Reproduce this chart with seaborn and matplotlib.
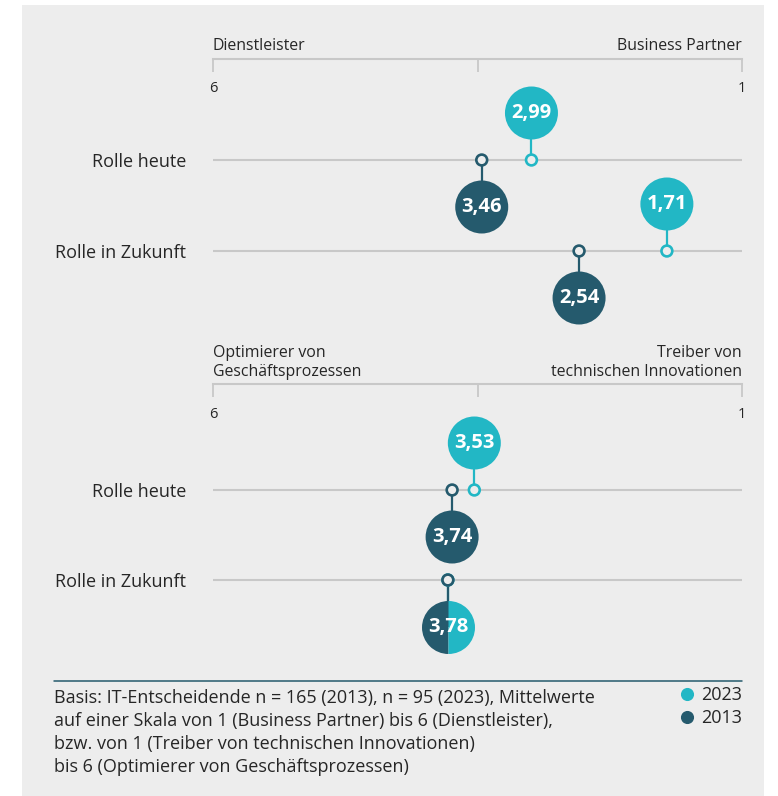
import matplotlib
matplotlib.use("Agg")
import matplotlib.pyplot as plt
from matplotlib.patches import Rectangle
from matplotlib.lines import Line2D
import seaborn as sns
import pandas as pd

# ---------------- data ----------------
rows = ["Rolle heute", "Rolle in Zukunft"]
years = ["2023", "2013"]

top_2023 = [2.99, 1.71]
top_2013 = [3.46, 2.54]
bot_2023 = [3.53, 3.78]
bot_2013 = [3.74, 3.78]

top_left_label = "Dienstleister"
top_right_label = "Business Partner"
bot_left_label = "Optimierer von\nGeschäftsprozessen"
bot_right_label = "Treiber von\ntechnischen Innovationen"

scale_ticks = [6, 3.5, 1]
scale_ticklabels = ["6", "", "1"]

footnote_lines = [
    "Basis: IT-Entscheidende n = 165 (2013), n = 95 (2023), Mittelwerte",
    "auf einer Skala von 1 (Business Partner) bis 6 (Dienstleister),",
    "bzw. von 1 (Treiber von technischen Innovationen)",
    "bis 6 (Optimierer von Geschäftsprozessen)",
]

# ---------------- style ----------------
TEAL = "#22b7c5"
DARK = "#255a6d"
BG = "#ededed"
GRID = "#c8c8c8"
TXT = "#262626"
palette = {"2023": TEAL, "2013": DARK}

sns.set_theme(style="white")
plt.rcParams["font.family"] = ["Open Sans", "DejaVu Sans"]

W, H, DPI = 778, 796, 100
PT = 72 / DPI  # points per pixel

fig = plt.figure(figsize=(W / DPI, H / DPI), dpi=DPI)
fig.patch.set_facecolor("white")
fig.patches.append(Rectangle((22 / W, 0), (764 - 22) / W, (H - 5) / H,
                             transform=fig.transFigure, facecolor=BG,
                             edgecolor="none", zorder=-10))

X0, X1 = 213, 742
BUB_D = 53 * PT        # bubble diameter in points
RING_D = 10.8 * PT
OFF_PX = 47


def panel(spine_px, row_px, bottom_px, v2023, v2013, left_label, right_label, label_off_px):
    ax = fig.add_axes([X0 / W, 1 - bottom_px / H, (X1 - X0) / W, (bottom_px - spine_px) / H])
    ax.set_facecolor("none")
    gap = row_px[1] - row_px[0]
    ax.set_xlim(6, 1)
    ax.set_ylim((bottom_px - row_px[0]) / gap, (spine_px - row_px[0]) / gap)
    off = OFF_PX / gap

    recs = []
    for i, r in enumerate(rows):
        recs.append(dict(row=r, ri=i, year="2023", value=v2023[i]))
    for i, r in enumerate(rows):
        recs.append(dict(row=r, ri=i, year="2013", value=v2013[i]))
    df = pd.DataFrame(recs)
    df["tie"] = df.groupby("ri")["value"].transform(lambda s: s.nunique() == 1)
    df["by"] = df.apply(lambda d: d.ri + off if (d.year == "2013" or d.tie) else d.ri - off, axis=1)

    # row lines
    for i in range(len(rows)):
        ax.axhline(i, color=GRID, lw=1.5, zorder=1)

    # stems
    for _, d in df.iterrows():
        ax.plot([d.value, d.value], [d.ri, d.by], color=palette[d.year], lw=1.6,
                zorder=2, solid_capstyle="butt")

    # bubbles
    nt = df[~df.tie]
    sns.scatterplot(data=nt, x="value", y="by", hue="year", hue_order=years,
                    palette=palette, s=BUB_D ** 2, linewidth=0, legend=False,
                    ax=ax, zorder=3)
    ties = df[df.tie & (df.year == "2013")]
    for _, d in ties.iterrows():
        ax.plot([d.value], [d.by], marker="o", ls="", markersize=BUB_D,
                fillstyle="left", markerfacecolor=DARK, markerfacecoloralt=TEAL,
                markeredgewidth=0, zorder=3)

    # rings on the line
    sns.scatterplot(data=df, x="value", y="ri", hue="year", hue_order=years,
                    palette=palette, s=RING_D ** 2, linewidth=1.9, legend=False,
                    ax=ax, zorder=4)
    ring = ax.collections[-1]
    ring.set_edgecolors(ring.get_facecolors())
    ring.set_facecolors(BG)

    # values in bubbles
    for _, d in df.iterrows():
        if d.tie and d.year == "2023":
            continue
        ax.text(d.value, d.by, f"{d.value:.2f}".replace(".", ","), ha="center",
                va="center", color="white", fontsize=14.5, fontweight="bold",
                zorder=5)

    # axes styling
    for s in ["left", "right", "bottom"]:
        ax.spines[s].set_visible(False)
    ax.spines["top"].set_color(GRID)
    ax.spines["top"].set_linewidth(1.5)
    ax.xaxis.tick_top()
    ax.set_xticks(scale_ticks)
    ax.set_xticklabels(scale_ticklabels)
    ax.tick_params(axis="x", direction="in", length=13 * PT, width=1.3, color=GRID,
                   pad=-27, labelsize=10.5, labelcolor=TXT)
    ax.set_yticks(range(len(rows)))
    ax.set_yticklabels(rows)
    ax.tick_params(axis="y", length=0, pad=27 * PT, labelsize=13, labelcolor=TXT)
    ax.set_xlabel("")
    ax.set_ylabel("")
    ax.grid(False)

    ax.annotate(left_label, xy=(0, 1), xycoords="axes fraction",
                xytext=(0, label_off_px * PT), textcoords="offset points",
                ha="left", va="center", fontsize=11.4, color=TXT, linespacing=1.32)
    ax.annotate(right_label, xy=(1, 1), xycoords="axes fraction",
                xytext=(0, label_off_px * PT), textcoords="offset points",
                ha="right", va="center", fontsize=11.4, color=TXT, linespacing=1.32,
                multialignment="right")
    return ax


panel(59, [160, 251], 335, top_2023, top_2013, top_left_label, top_right_label, 13)
panel(384, [490, 580], 665, bot_2023, bot_2013, bot_left_label, bot_right_label, 21.5)

# footer rule
fig.add_artist(Line2D([54 / W, X1 / W], [1 - 681 / H] * 2, color=DARK, lw=1.1))

# footnote
for k, line in enumerate(footnote_lines):
    fig.text(54 / W, 1 - (698 + 23 * k) / H, line, ha="left", va="center",
             fontsize=13, color=TXT)

# legend
handles = [Line2D([], [], marker="o", ls="", color=palette[y], markersize=11.7 * PT,
                  label=y) for y in years]
fig.legend(handles=handles, loc="upper right", bbox_to_anchor=(X1 / W, 1 - 686 / H),
           frameon=False, fontsize=13, handlelength=0.7, handletextpad=0.4,
           labelspacing=0.3, borderpad=0, borderaxespad=0, labelcolor=TXT)

fig.savefig("out.png", dpi=DPI, facecolor=fig.get_facecolor())
